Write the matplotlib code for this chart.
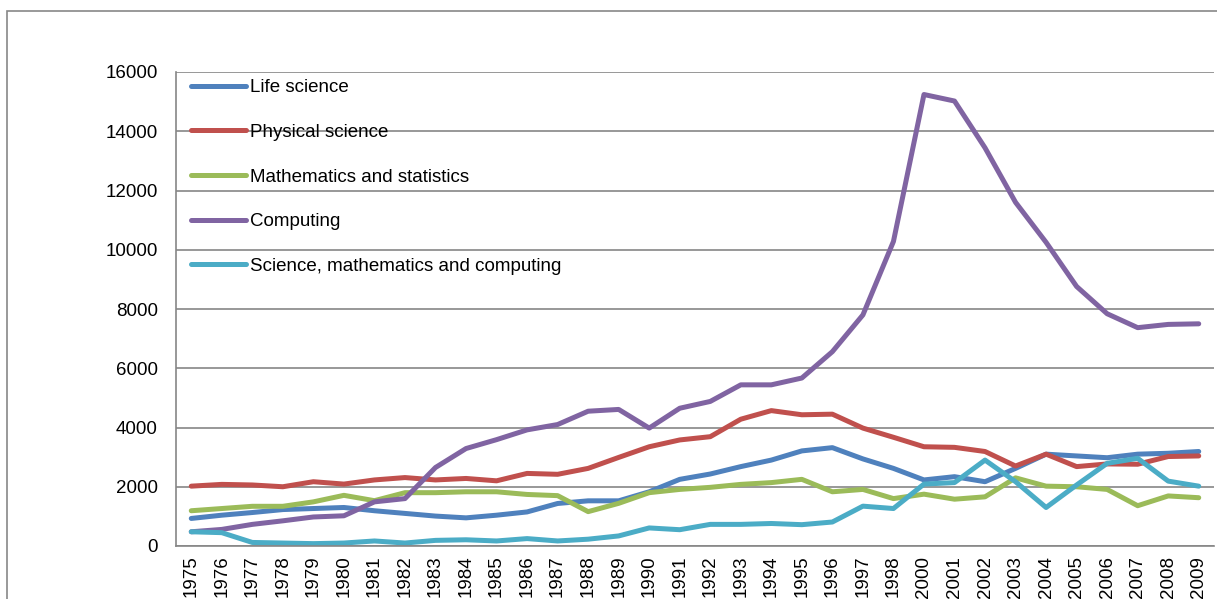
import matplotlib
matplotlib.use("Agg")
import matplotlib.pyplot as plt
from matplotlib.patches import Rectangle
import numpy as np

plt.rcParams['font.family'] = ['Liberation Sans', 'DejaVu Sans']

# 1999 is missing in the source chart
years = ['1975', '1976', '1977', '1978', '1979', '1980', '1981', '1982', '1983', '1984',
         '1985', '1986', '1987', '1988', '1989', '1990', '1991', '1992', '1993', '1994',
         '1995', '1996', '1997', '1998', '2000', '2001', '2002', '2003', '2004', '2005',
         '2006', '2007', '2008', '2009']

life_science = [930, 1040, 1130, 1230, 1265, 1300, 1190, 1100, 1010, 950,
                1040, 1150, 1435, 1525, 1525, 1830, 2250, 2430, 2680, 2900,
                3210, 3320, 2940, 2620, 2230, 2340, 2170, 2620, 3100, 3040,
                2980, 3100, 3130, 3190]
physical_science = [2020, 2080, 2060, 2000, 2170, 2090, 2230, 2310, 2230, 2280,
                    2200, 2450, 2420, 2620, 2990, 3350, 3580, 3690, 4280, 4570,
                    4430, 4450, 3980, 3670, 3350, 3330, 3190, 2700, 3100, 2680,
                    2770, 2760, 3020, 3040]
maths_stats = [1190, 1265, 1340, 1340, 1490, 1710, 1530, 1800, 1800, 1830,
               1830, 1740, 1700, 1160, 1440, 1800, 1910, 1980, 2080, 2140,
               2250, 1830, 1910, 1600, 1750, 1580, 1660, 2300, 2020, 2000,
               1910, 1360, 1690, 1630]
computing = [480, 560, 730, 850, 980, 1020, 1490, 1600, 2650, 3290,
             3590, 3920, 4100, 4550, 4610, 3980, 4650, 4880, 5440, 5440,
             5670, 6560, 7800, 10280, 15240, 15020, 13440, 11600, 10250, 8760,
             7840, 7370, 7480, 7500]
sci_math_comp = [480, 450, 120, 100, 80, 100, 170, 100, 190, 210,
                 170, 250, 170, 230, 340, 610, 550, 730, 730, 760,
                 720, 810, 1345, 1265, 2090, 2140, 2900, 2170, 1300, 2060,
                 2790, 2960, 2190, 2020]

series = [
    ('Life science', life_science, '#4F81BD'),
    ('Physical science', physical_science, '#C0504D'),
    ('Mathematics and statistics', maths_stats, '#9BBB59'),
    ('Computing', computing, '#8064A2'),
    ('Science, mathematics and computing', sci_math_comp, '#4BACC6'),
]

fig = plt.figure(figsize=(12.17, 5.99), dpi=100)
ax = fig.add_axes([176 / 1217, 1 - 546 / 599, (1214 - 176) / 1217, (546 - 72) / 599])

x = np.arange(len(years))
for name, vals, col in series:
    ax.plot(x, vals, color=col, linewidth=3.6, label=name,
            solid_capstyle='round', solid_joinstyle='round')

ax.set_xlim(-0.5, len(years) - 0.5)
ax.set_ylim(0, 16000)
ax.set_yticks(np.arange(0, 16001, 2000))
ax.set_xticks(x)
ax.set_xticklabels(years, rotation=90)
ax.tick_params(axis='y', length=0, pad=13, labelsize=13.5)
ax.tick_params(axis='x', length=0, pad=7, labelsize=13.5)
ax.grid(axis='y', color='#868686', linewidth=1.2)
ax.set_axisbelow(True)
for side in ['top', 'right']:
    ax.spines[side].set_visible(False)
for side in ['left', 'bottom']:
    ax.spines[side].set_color('#868686')
    ax.spines[side].set_linewidth(1.2)

ax.legend(loc='upper left', bbox_to_anchor=(0.0145, 0.985), frameon=False,
          fontsize=13.5, handlelength=2.95, handletextpad=0.2, labelspacing=1.47,
          borderpad=0, borderaxespad=0)

# outer chart-area border
fig.add_artist(Rectangle((7 / 1217, -0.1), 1.2, (599 - 11) / 599 + 0.1,
                         transform=fig.transFigure, fill=False,
                         edgecolor='#878787', linewidth=1.2))

fig.savefig('out.png', dpi=100)
